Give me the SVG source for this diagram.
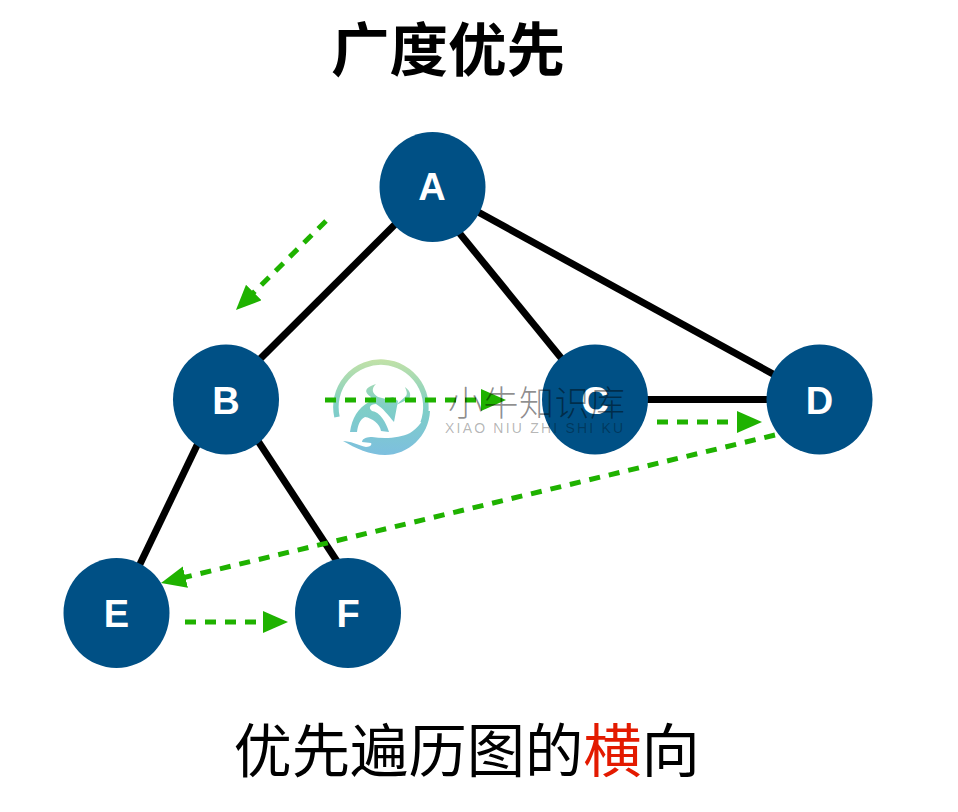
<svg xmlns="http://www.w3.org/2000/svg" width="958" height="812" viewBox="0 0 958 812">
<defs>
<marker id="ah" markerUnits="userSpaceOnUse" markerWidth="28" markerHeight="24" refX="13" refY="11" orient="auto"><path d="M0 0L25 11L0 22Z" fill="#1fb200"/></marker>
<linearGradient id="wm" gradientUnits="userSpaceOnUse" x1="0" y1="358" x2="0" y2="456"><stop offset="0" stop-color="#c4e2a6"/><stop offset="0.5" stop-color="#7fcfc6"/><stop offset="1" stop-color="#7dbfdf"/></linearGradient>
</defs>
<style>
.edge{stroke:#000;stroke-width:7;fill:none}
.flow{stroke:#1fb200;stroke-width:5;stroke-dasharray:11 9;fill:none;marker-end:url(#ah)}
.n{fill:#005085}
.l{fill:#fff;font:bold 38px "Liberation Sans",Arial,sans-serif;text-anchor:middle}
.t{font-family:"Noto Sans CJK SC","Liberation Sans",sans-serif;fill:#000}
</style>
<rect width="958" height="812" fill="#fff"/>
<g id="connectors">
<line class="edge" x1="432.5" y1="187" x2="226" y2="393"/>
<line class="edge" x1="432.5" y1="200" x2="595" y2="399.5"/>
<line class="edge" x1="432.5" y1="187" x2="819.5" y2="399.5"/>
<line class="edge" x1="595" y1="399.5" x2="819.5" y2="399.5"/>
<line class="edge" x1="219" y1="399.5" x2="116.5" y2="613"/>
<line class="edge" x1="235" y1="406" x2="348" y2="578"/>
</g>
<g id="node-A"><ellipse class="n" cx="432.5" cy="187" rx="53" ry="55"/><text class="l" x="432" y="200">A</text></g>
<g id="node-B"><ellipse class="n" cx="226" cy="399.5" rx="53" ry="55"/><text class="l" x="226" y="414">B</text></g>
<g id="node-C"><ellipse class="n" cx="595" cy="399.5" rx="53" ry="55"/><text class="l" x="595" y="414">C</text></g>
<g id="node-D"><ellipse class="n" cx="819.5" cy="399.5" rx="53" ry="55"/><text class="l" x="819.5" y="414">D</text></g>
<g id="node-E"><ellipse class="n" cx="116.5" cy="613" rx="53" ry="55"/><text class="l" x="116.5" y="627">E</text></g>
<g id="node-F"><ellipse class="n" cx="348" cy="613" rx="53" ry="55"/><text class="l" x="348" y="627">F</text></g>
<g id="watermark-logo">
<path d="M337 417A45 45 0 1 1 423 423" fill="none" stroke="url(#wm)" stroke-width="5.5"/>
<path d="M343 441C350 441 358 445 366 447C371 447 372 444 371 443L362 442C362 438 368 437 372 437C385 439 400 438 410 433C418 428 424 420 427 411L430 411C429 436 408 455 385 455C370 455 355 448 343 441Z" fill="url(#wm)"/>
<path d="M350 432C352 418 358 408 369 402L371 397C364 392 364 388 376 384C371 389 372 393 378 397L386 399L393 397L398 401L394 422C388 415 383 408 376 404C370 404 368 408 372 411C380 412 386 422 389 432L381 431C380 424 372 418 365 417C359 420 358 426 357 432Z" fill="url(#wm)"/>
<path d="M405 387C409 390 412 394 409 399L396 405L406 396C408 393 406 390 405 387Z" fill="url(#wm)"/>
</g>
<g id="flows">
<line class="flow" x1="326" y1="221" x2="244.5" y2="301.6"/>
<line class="flow" x1="325" y1="400" x2="494" y2="400"/>
<line class="flow" x1="657" y1="422" x2="750" y2="422"/>
<line class="flow" x1="775" y1="435" x2="172.7" y2="580.2"/>
<line class="flow" x1="185" y1="622" x2="276" y2="622"/>
</g>
<g id="watermark-text">
<text x="448" y="416" font-family="'Noto Sans CJK SC',sans-serif" font-size="35" letter-spacing="0.5" fill="#000" fill-opacity="0.45" font-weight="300">小牛知识库</text>
<text x="445" y="433" font-family="'Liberation Sans',sans-serif" font-size="14" letter-spacing="2.2" fill="#000" fill-opacity="0.3">XIAO NIU ZHI SHI KU</text>
</g>
<text id="title" class="t" x="331" y="71" font-size="58.5" font-weight="700">广度优先</text>
<text id="caption" class="t" x="233.5" y="772" font-size="58.3">优先遍历图的<tspan fill="#e31a00">横</tspan>向</text>
</svg>
